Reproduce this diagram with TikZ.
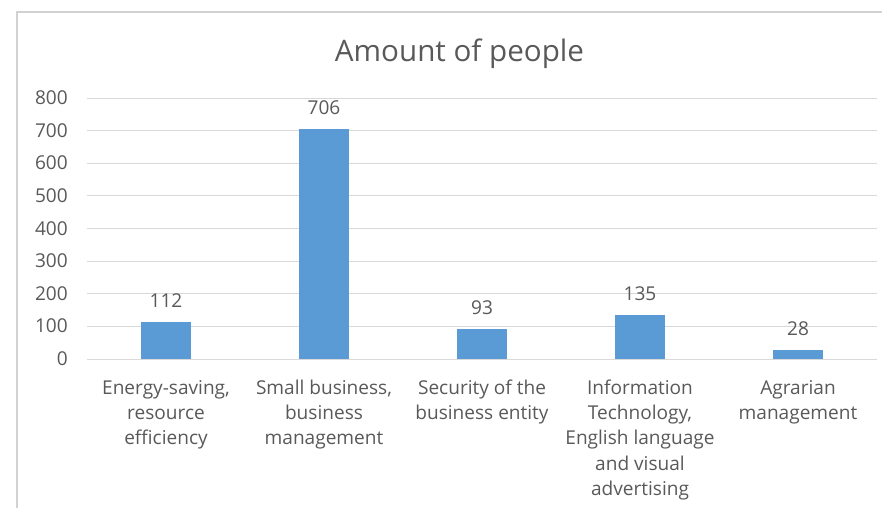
\documentclass[tikz,border=0pt]{standalone}
\usepackage{fontspec}
\setmainfont{Open Sans}
\usepackage{tikz}
\usetikzlibrary{positioning}
\definecolor{barblue}{RGB}{91,155,213}
\definecolor{txtgray}{RGB}{89,89,89}
\definecolor{gridgray}{RGB}{217,217,217}
\definecolor{framegray}{RGB}{210,210,210}

\begin{document}
\begin{tikzpicture}[x=0.75pt, y=-0.75pt, inner sep=0pt,
	lbl/.style={text=txtgray, font=\fontsize{14.3}{18.8}\selectfont},
	ticklbl/.style={lbl, anchor=base east},
	vallbl/.style={lbl, anchor=base},
	catlbl/.style={lbl, anchor=north, align=center, execute at begin node=\strut},
	barfill/.style={fill=barblue, draw=none},
	gridline/.style={draw=gridgray, line width=0.75pt}]
			\useasboundingbox (0,0) rectangle (882,508);
			
			% frame
			\draw[draw=framegray, line width=1.5pt] (17,508) -- (17,12) -- (882,12);
			
			\node[text=txtgray, font=\fontsize{22.2}{26}\selectfont, anchor=base] (title) at (459.5,61.7) {Amount of people};
			
			% grid and axis
			\draw[gridline] (87,98) -- (877,98);
			\draw[gridline] (87,130.6) -- (877,130.6);
			\draw[gridline] (87,163.25) -- (877,163.25);
			\draw[gridline] (87,195.9) -- (877,195.9);
			\draw[gridline] (87,228.5) -- (877,228.5);
			\draw[gridline] (87,261.1) -- (877,261.1);
			\draw[gridline] (87,293.75) -- (877,293.75);
			\draw[gridline] (87,326.4) -- (877,326.4);
			\draw[gridline] (87,359) -- (877,359);
			
			\node[ticklbl] (y800) at (68,104.5) {800};
			\node[ticklbl] (y700) at (68,137.1) {700};
			\node[ticklbl] (y600) at (68,169.75) {600};
			\node[ticklbl] (y500) at (68,202.4) {500};
			\node[ticklbl] (y400) at (68,235) {400};
			\node[ticklbl] (y300) at (68,267.6) {300};
			\node[ticklbl] (y200) at (68,300.25) {200};
			\node[ticklbl] (y100) at (68,332.9) {100};
			\node[ticklbl] (y0) at (68,365.5) {0};
			
			% bars
			\fill[barfill] (141,359) rectangle (191,322.46);
			\fill[barfill] (299,359) rectangle (349,128.67);
			\fill[barfill] (457,359) rectangle (507,328.66);
			\fill[barfill] (615,359) rectangle (665,314.96);
			\fill[barfill] (773,359) rectangle (823,349.87);
			
			\node[vallbl] (v_energy) at (166,307.96) {112};
			\node[vallbl] (v_small) at (324,114.17) {706};
			\node[vallbl] (v_security) at (482,314.16) {93};
			\node[vallbl] (v_it) at (640,300.46) {135};
			\node[vallbl] (v_agrarian) at (798,335.37) {28};
			
			\node[catlbl] (c_energy) at (166,380) {Energy-saving,\\resource\\efficiency};
			\node[catlbl] (c_small) at (324,380) {Small business,\\business\\management};
			\node[catlbl] (c_security) at (482,380) {Security of the\\business entity};
			\node[catlbl] (c_it) at (640,380) {Information\\Technology,\\English language\\and visual\\advertising};
			\node[catlbl] (c_agrarian) at (798,380) {Agrarian\\management};
		\end{tikzpicture}
\end{document}
